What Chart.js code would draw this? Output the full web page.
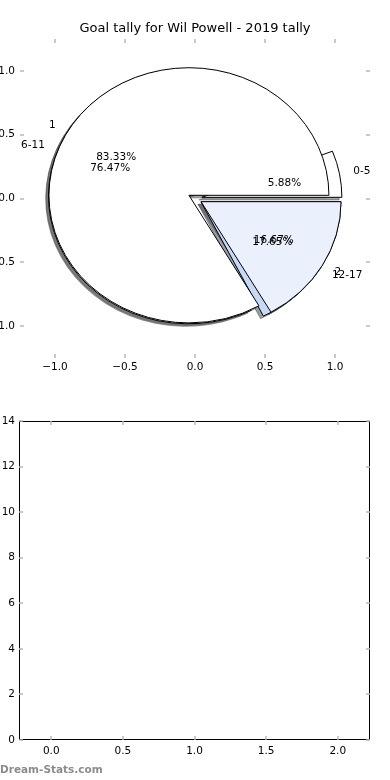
<!DOCTYPE html>
<html>
<head>
<meta charset="utf-8">
<script src="https://cdn.jsdelivr.net/npm/chart.js@4.4.1/dist/chart.umd.min.js"></script>
<style>
html,body{margin:0;padding:0;background:#fff;}
#wrap{position:relative;width:390px;height:780px;}
canvas{position:absolute;left:0;}
#pieCanvas{top:0;}
#barCanvas{top:390px;}
</style>
</head>
<body>
<div id="wrap">
  <canvas id="pieCanvas" width="390" height="390"></canvas>
  <canvas id="barCanvas" width="390" height="390"></canvas>
</div>
<script>
// data
const chartTitle = "Goal tally for Wil Powell - 2019 tally";
const gameLabels = ["1", "2"];
const gameGoals = [5, 1];
const gameColors = ["#ffffff", "#eaf0fc"];
const rangeLabels = ["0-5", "6-11", "12-17"];
const rangeGoals = [1, 13, 3];
const rangeColors = ["#ffffff", "#ffffff", "#c8d9f5"];
const pieExplode = 0.05;
const pieTicks = [-1, -0.5, 0, 0.5, 1];
const barXTicks = [0, 0.5, 1, 1.5, 2];
const barYTicks = [0, 2, 4, 6, 8, 10, 12, 14];
const barCounts = []; // lower panel is empty

const FONT = "DejaVu Sans";
const fmt1 = v => Number(v).toFixed(1).replace("-", "\u2212");

function layoutRing(values, explode){
  const total = values.reduce((a, b) => a + b, 0);
  let t = 0;
  return values.map(v => {
    const t1 = t, t2 = t + v / total * 2 * Math.PI;
    t = t2;
    const mid = (t1 + t2) / 2;
    return {t1, t2, mid, frac: v / total,
      cx: explode * Math.cos(mid), cy: explode * Math.sin(mid)};
  });
}

// second pie was drawn on top of the first one
const rings = [
  {labels: rangeLabels, colors: rangeColors, wedges: layoutRing(rangeGoals, pieExplode)},
  {labels: gameLabels, colors: gameColors, wedges: layoutRing(gameGoals, pieExplode)}
];

function wedgePath(ctx, x, y, w, dx, dy){
  const cx = x.getPixelForValue(w.cx + dx), cy = y.getPixelForValue(w.cy + dy);
  const rx = x.getPixelForValue(1) - x.getPixelForValue(0);
  const ry = y.getPixelForValue(0) - y.getPixelForValue(1);
  ctx.beginPath();
  ctx.moveTo(cx, cy);
  ctx.ellipse(cx, cy, rx, ry, 0, -w.t1, -w.t2, true);
  ctx.closePath();
}

function shadowOf(hex){
  const n = parseInt(hex.slice(1), 16);
  const r = Math.round(((n >> 16) & 255) * 0.3), g = Math.round(((n >> 8) & 255) * 0.3), b = Math.round((n & 255) * 0.3);
  return `rgba(${r},${g},${b},0.5)`;
}

const piePlugin = {
  id: "pieOnAxes",
  afterDraw(chart){
    const {ctx, scales: {x, y}} = chart;
    ctx.save();
    // shadows first
    rings.forEach(r => r.wedges.forEach((w, i) => {
      wedgePath(ctx, x, y, w, -0.02, -0.02);
      ctx.fillStyle = shadowOf(r.colors[i]);
      ctx.strokeStyle = shadowOf(r.colors[i]);
      ctx.lineWidth = 1;
      ctx.fill(); ctx.stroke();
    }));
    rings.forEach(r => r.wedges.forEach((w, i) => {
      wedgePath(ctx, x, y, w, 0, 0);
      ctx.fillStyle = r.colors[i];
      ctx.strokeStyle = "#000";
      ctx.lineWidth = 1;
      ctx.fill(); ctx.stroke();
    }));
    ctx.fillStyle = "#000";
    ctx.font = `10.5px '${FONT}'`;
    ctx.textBaseline = "middle";
    rings.forEach(r => r.wedges.forEach((w, i) => {
      const lx = w.cx + 1.1 * Math.cos(w.mid), ly = w.cy + 1.1 * Math.sin(w.mid);
      ctx.textAlign = lx > 0 ? "left" : "right";
      ctx.fillText(r.labels[i], x.getPixelForValue(lx), y.getPixelForValue(ly));
      const px = w.cx + 0.6 * Math.cos(w.mid), py = w.cy + 0.6 * Math.sin(w.mid);
      ctx.textAlign = "center";
      ctx.fillText((w.frac * 100).toFixed(2) + "%", x.getPixelForValue(px), y.getPixelForValue(py));
    }));
    ctx.restore();
  }
};

// inward gray tick marks on all four sides, optional black frame
const tickMarks = {
  id: "tickMarks",
  afterDraw(chart, args, opts){
    const {ctx, chartArea: a, scales: {x, y}} = chart;
    ctx.save();
    if(opts.frame){
      ctx.strokeStyle = "#000";
      ctx.lineWidth = 1;
      ctx.strokeRect(a.left + 0.5, a.top + 0.5, a.right - a.left - 1, a.bottom - a.top - 1);
    }
    ctx.strokeStyle = "#b8b8b8";
    ctx.lineWidth = 1.5;
    ctx.beginPath();
    x.ticks.forEach(t => {
      const p = Math.round(x.getPixelForValue(t.value));
      ctx.moveTo(p, a.top); ctx.lineTo(p, a.top + 4);
      ctx.moveTo(p, a.bottom); ctx.lineTo(p, a.bottom - 4);
    });
    y.ticks.forEach(t => {
      const p = Math.round(y.getPixelForValue(t.value));
      ctx.moveTo(a.left, p); ctx.lineTo(a.left + 4, p);
      ctx.moveTo(a.right, p); ctx.lineTo(a.right - 4, p);
    });
    ctx.stroke();
    if(opts.watermark){
      ctx.fillStyle = "#8c8c8c";
      ctx.font = `bold 10.5px '${FONT}'`;
      ctx.textAlign = "left";
      ctx.textBaseline = "middle";
      ctx.fillText(opts.watermark, 0, 380);
    }
    ctx.restore();
  }
};

function axis(min, max, ticks, fmt, size, pad){
  return {
    type: "linear", min, max,
    afterBuildTicks: s => { s.ticks = ticks.map(v => ({value: v})); },
    afterFit: s => { if(s.isHorizontal()) s.height = size; else s.width = size; },
    grid: {display: false, drawTicks: false},
    border: {display: false},
    ticks: {padding: pad, color: "#000", autoSkip: false, maxRotation: 0,
      font: {family: FONT, size: 10.5}, callback: v => fmt(v)}
  };
}

// empty right-hand spacer so the title centres over the axes
const spacer = {
  type: "linear", position: "right", min: -1.25, max: 1.25,
  afterFit: s => { s.width = 20; },
  grid: {display: false, drawTicks: false},
  border: {display: false},
  ticks: {display: false}
};

new Chart(document.getElementById("pieCanvas"), {
  type: "scatter",
  data: {datasets: [{data: []}]},
  options: {
    responsive: false, animation: false,
    layout: {padding: {left: 0, right: 0, top: 0, bottom: 0}},
    plugins: {
      legend: {display: false}, tooltip: {enabled: false},
      title: {display: true, text: chartTitle, color: "#000",
        font: {family: FONT, size: 13, weight: "normal"}, padding: {top: 21, bottom: 2.4}},
      tickMarks: {frame: false}
    },
    scales: {
      x: axis(-1.25, 1.25, pieTicks, fmt1, 32, 3),
      y: axis(-1.25, 1.25, pieTicks, fmt1, 20, 5),
      yRight: spacer
    }
  },
  plugins: [piePlugin, tickMarks]
});

new Chart(document.getElementById("barCanvas"), {
  type: "scatter",
  data: {datasets: [{data: barCounts}]},
  options: {
    responsive: false, animation: false,
    layout: {padding: {left: 0, right: 20, top: 31, bottom: 0}},
    plugins: {
      legend: {display: false}, tooltip: {enabled: false},
      tickMarks: {frame: true, watermark: "Dream-Stats.com"}
    },
    scales: {
      x: axis(-0.225, 2.225, barXTicks, fmt1, 40, 5),
      y: axis(0, 14, barYTicks, v => String(v), 19, 4)
    }
  },
  plugins: [tickMarks]
});
</script>
</body>
</html>
